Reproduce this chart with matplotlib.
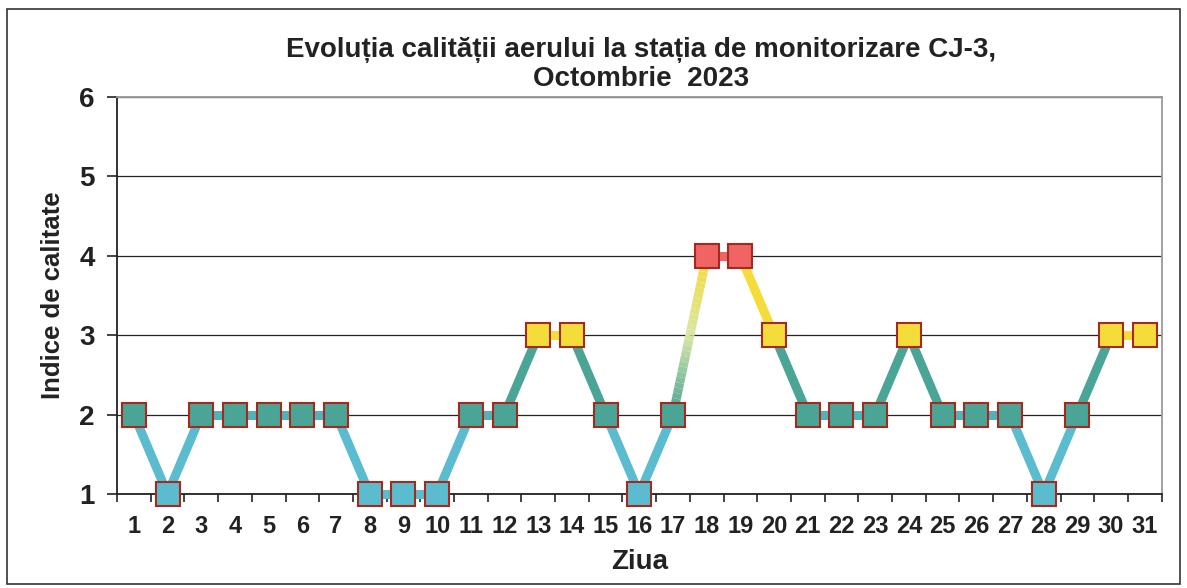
import matplotlib
matplotlib.use("Agg")
import matplotlib.pyplot as plt
from matplotlib.collections import LineCollection
from matplotlib.patches import Rectangle
import numpy as np

plt.rcParams['font.family'] = ['Liberation Sans', 'DejaVu Sans']

zile = list(range(1, 32))
indice = [2, 1, 2, 2, 2, 2, 2, 1, 1, 1, 2, 2, 3, 3, 2, 1, 2, 4, 4, 3, 2, 2, 2, 3, 2, 2, 2, 1, 2, 3, 3]

titlu = "Evoluția calității aerului la stația de monitorizare CJ-3,\nOctombrie  2023"

# culori pe nivel de indice
culori_nivel = {1: "#5bbccf", 2: "#4aa597", 3: "#f4dc3a", 4: "#f06464"}
culoare_margine = "#a52a1e"

fig = plt.figure(figsize=(11.87, 5.88), dpi=100)
ax = fig.add_axes([0.0986, 0.160, 0.880, 0.675])

# linia, segment cu segment
segs = []
cols = []
for i in range(len(zile) - 1):
    x0, x1 = zile[i], zile[i + 1]
    y0, y1 = indice[i], indice[i + 1]
    lo, hi = min(y0, y1), max(y0, y1)
    if lo == hi == 4:
        c = culori_nivel[4]
    elif lo >= 3:
        c = culori_nivel[3]
    elif lo == 1:
        c = culori_nivel[1]
    elif hi == 3:
        c = culori_nivel[2]
    elif hi == 2:
        c = "#52b2b8"
    else:
        c = None
    if c is not None:
        segs.append([(x0, y0), (x1, y1)])
        cols.append(c)
    else:
        # gradient de la teal la galben (salt peste un nivel)
        n = 30
        xs = np.linspace(x0, x1, n + 1)
        ys = np.linspace(y0, y1, n + 1)
        c0 = np.array(matplotlib.colors.to_rgb(culori_nivel[2]))
        cm = np.array([0.85, 0.9, 0.65])
        c1 = np.array(matplotlib.colors.to_rgb(culori_nivel[3]))
        for k in range(n):
            t = k / (n - 1)
            if t < 0.5:
                cc = c0 + (cm - c0) * (t / 0.5)
            else:
                cc = cm + (c1 - cm) * ((t - 0.5) / 0.5)
            segs.append([(xs[k], ys[k]), (xs[k + 1], ys[k + 1])])
            cols.append(tuple(cc))

lc = LineCollection(segs, colors=cols, linewidths=6.5, capstyle="butt", zorder=3, clip_on=False)
ax.add_collection(lc)

for x, y in zip(zile, indice):
    ax.plot(x, y, marker="s", markersize=17.5, markerfacecolor=culori_nivel[y],
            markeredgecolor=culoare_margine, markeredgewidth=1.5, zorder=4, clip_on=False)

ax.set_xlim(0.5, 31.5)
ax.set_ylim(1, 6)
ax.set_yticks([1, 2, 3, 4, 5, 6])
ax.set_yticklabels([str(v) for v in [1, 2, 3, 4, 5, 6]], fontsize=20, fontweight="bold", color="#222222")
ax.set_xticks(zile)
ax.set_xticklabels([str(z) for z in zile], fontsize=17, fontweight="bold", color="#222222")
ax.set_xticks(np.arange(0.5, 32, 1), minor=True)
ax.tick_params(axis="x", which="major", length=0, pad=15)
ax.tick_params(axis="x", which="minor", length=6, width=1.2, direction="out", color="#222222")
ax.tick_params(axis="y", length=7, width=1.2, direction="out", color="#222222", pad=9)

ax.grid(axis="y", color="#222222", linewidth=0.9)
ax.set_axisbelow(True)
for s in ["left", "bottom"]:
    ax.spines[s].set_color("#222222")
    ax.spines[s].set_linewidth(1.3)
for s in ["top", "right"]:
    ax.spines[s].set_color("#999999")
    ax.spines[s].set_linewidth(1.3)

ax.set_ylabel("Indice de calitate", fontsize=18.5, fontweight="bold", color="#222222", labelpad=10)
ax.set_xlabel("Ziua", fontsize=20, fontweight="bold", color="#222222", labelpad=8)

fig.text(0.54, 0.89, titlu, ha="center", va="center", fontsize=20, fontweight="bold",
         color="#222222", linespacing=1.15)

# chenarul exterior
fig.patches.append(Rectangle((0.006, 0.006), 0.988, 0.978, transform=fig.transFigure,
                             fill=False, edgecolor="#333333", linewidth=1.2))

fig.savefig("out.png", dpi=100)
